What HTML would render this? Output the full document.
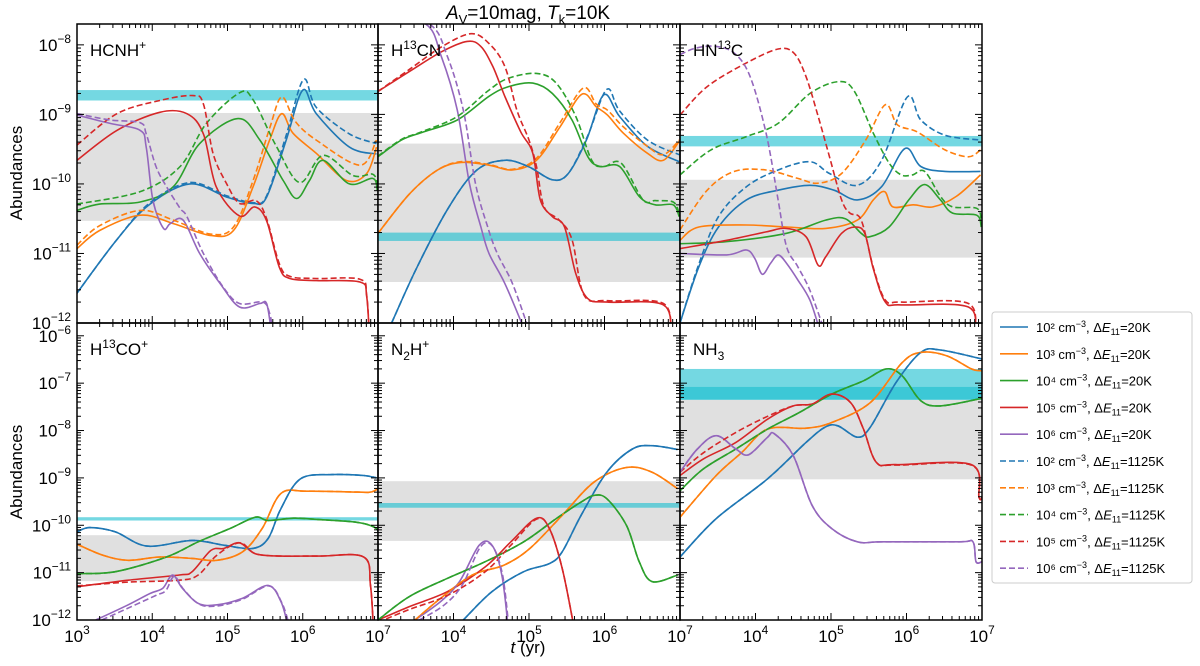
<!DOCTYPE html>
<html><head><meta charset="utf-8"><style>
html,body{margin:0;padding:0;background:#fff;}
svg{display:block;font-family:"Liberation Sans",sans-serif;}
</style></head><body>
<svg id="chart" width="1200" height="666" viewBox="0 0 1200 666" xmlns="http://www.w3.org/2000/svg">
<text x="528" y="19" text-anchor="middle" font-size="19"><tspan font-style="italic">A</tspan><tspan font-size="13" dy="5">V</tspan><tspan dy="-5">=10mag, </tspan><tspan font-style="italic">T</tspan><tspan font-size="13" dy="5">k</tspan><tspan dy="-5">=10K</tspan></text>
<text x="528" y="653" text-anchor="middle" font-size="17"><tspan font-style="italic">t</tspan> (yr)</text>
<text transform="translate(22,173) rotate(-90)" text-anchor="middle" font-size="17">Abundances</text>
<text transform="translate(22,472) rotate(-90)" text-anchor="middle" font-size="17">Abundances</text>
<g id="panels"></g>
<g id="legend"></g>
</svg>
<script>
// ---- data: [log10 t, log10 abundance] ----
const p1Blue=[[3,-11.57],[3.53,-10.8],[3.97,-10.29],[4.5,-10.0],[4.99,-10.19],[5.34,-10.28],[5.52,-10.19],[5.78,-9.37],[6.0,-8.65],[6.18,-8.99],[6.62,-9.47],[6.98,-9.57]];
const p1BlueD=[[3,-11.57],[3.53,-10.8],[3.97,-10.27],[4.5,-9.98],[4.99,-10.17],[5.34,-10.27],[5.52,-10.17],[5.78,-9.3],[6.01,-8.5],[6.18,-8.9],[6.62,-9.28],[6.98,-9.42]];
const p1Orange=[[3,-10.93],[3.3,-10.67],[3.84,-10.45],[4.28,-10.57],[4.77,-10.74],[5.08,-10.67],[5.34,-10.04],[5.56,-9.37],[5.72,-8.99],[5.87,-9.27],[6.18,-9.56],[6.58,-9.95],[6.85,-9.85],[6.98,-9.47]];
const p1OrangeD=[[3,-10.88],[3.3,-10.6],[3.84,-10.38],[4.28,-10.52],[4.77,-10.72],[5.08,-10.62],[5.34,-9.95],[5.56,-9.2],[5.72,-8.75],[5.9,-9.1],[6.18,-9.37],[6.76,-9.73],[6.98,-9.37]];
const p1Green=[[3,-10.38],[3.3,-10.29],[3.84,-10.26],[4.28,-10.04],[4.63,-9.42],[5.14,-9.06],[5.43,-9.37],[5.74,-9.95],[5.92,-10.21],[6.09,-9.95],[6.27,-9.66],[6.62,-10.0],[6.93,-9.92],[6.99,-10.09]];
const p1GreenD=[[3,-10.29],[3.84,-10.11],[4.37,-9.75],[4.72,-9.13],[5.16,-8.69],[5.34,-8.79],[5.65,-9.46],[5.96,-9.98],[6.27,-9.59],[6.67,-9.88],[6.93,-9.86],[6.99,-10.0]];
const p1Red=[[3,-9.66],[3.53,-9.23],[4.1,-8.97],[4.46,-8.99],[4.68,-9.28],[4.85,-10.04],[5.16,-10.46],[5.36,-10.33],[5.52,-10.53],[5.69,-11.2],[5.83,-11.36],[6.18,-11.39],[6.76,-11.41],[6.85,-11.62],[6.89,-12.3]];
const p1RedD=[[3,-9.44],[3.53,-8.99],[4.1,-8.8],[4.54,-8.73],[4.68,-8.85],[4.81,-9.57],[4.99,-10.0],[5.16,-10.28],[5.38,-10.24],[5.52,-10.5],[5.69,-11.15],[5.83,-11.33],[6.18,-11.36],[6.76,-11.37],[6.85,-11.6],[6.89,-12.3]];
const p1Purple=[[3,-9.01],[3.44,-9.13],[3.84,-9.23],[3.92,-9.47],[4.01,-10.24],[4.15,-10.64],[4.24,-10.57],[4.41,-10.52],[4.63,-11.0],[4.9,-11.43],[5.16,-11.77],[5.43,-11.72],[5.52,-11.72],[5.58,-12.1]];
const p1PurpleD=[[3,-8.99],[3.44,-9.08],[3.84,-9.12],[3.92,-9.28],[4.05,-9.75],[4.19,-10.04],[4.37,-10.35],[4.46,-10.47],[4.68,-11.0],[4.94,-11.48],[5.16,-11.72],[5.47,-11.7],[5.56,-11.86],[5.6,-12.1]];

const p2Blue=[[3.18,-12],[3.52,-11.19],[3.94,-10.33],[4.31,-9.8],[4.68,-9.66],[4.99,-9.75],[5.31,-9.94],[5.52,-9.85],[5.76,-9.37],[5.99,-8.72],[6.2,-9.03],[6.57,-9.46],[6.99,-9.68]];
const p2BlueD=[[3.18,-12],[3.52,-11.19],[3.94,-10.33],[4.31,-9.8],[4.68,-9.66],[4.99,-9.75],[5.31,-9.94],[5.52,-9.85],[5.78,-9.3],[6.03,-8.64],[6.2,-8.95],[6.57,-9.37],[6.99,-9.58]];
const p2Orange=[[3,-10.71],[3.42,-10.14],[3.79,-9.8],[4.1,-9.69],[4.47,-9.73],[4.78,-9.8],[5.1,-9.66],[5.41,-9.18],[5.7,-8.71],[5.89,-8.89],[6.04,-9.01],[6.25,-9.27],[6.57,-9.56],[6.78,-9.66],[6.99,-9.39]];
const p2OrangeD=[[3,-10.71],[3.42,-10.14],[3.79,-9.8],[4.1,-9.68],[4.47,-9.72],[4.78,-9.79],[5.1,-9.63],[5.41,-9.12],[5.72,-8.62],[5.89,-8.85],[6.04,-8.94],[6.25,-9.18],[6.57,-9.46],[6.78,-9.58],[6.99,-9.37]];
const p2Green=[[3,-9.61],[3.31,-9.37],[3.58,-9.26],[4.05,-9.08],[4.47,-8.74],[4.73,-8.6],[5.05,-8.55],[5.31,-8.7],[5.57,-9.08],[5.78,-9.61],[5.94,-9.75],[6.2,-9.75],[6.46,-10.18],[6.67,-10.3],[6.91,-10.3],[6.99,-10.47]];
const p2GreenD=[[3,-9.6],[3.31,-9.36],[3.58,-9.25],[4.05,-9.03],[4.47,-8.65],[4.73,-8.48],[5.1,-8.41],[5.36,-8.55],[5.62,-9.03],[5.83,-9.66],[5.99,-9.75],[6.22,-9.7],[6.51,-10.23],[6.67,-10.24],[6.91,-10.26],[6.99,-10.42]];
const p2Red=[[3,-8.67],[3.42,-8.38],[3.84,-8.1],[4.18,-7.95],[4.36,-8.02],[4.52,-8.31],[4.68,-8.74],[4.89,-9.25],[5.05,-9.56],[5.15,-10.23],[5.31,-10.47],[5.47,-10.62],[5.62,-11.29],[5.78,-11.65],[6.04,-11.7],[6.78,-11.74],[6.88,-12.2]];
const p2RedD=[[3,-8.67],[3.42,-8.35],[3.84,-8.03],[4.23,-7.84],[4.47,-7.98],[4.68,-8.31],[4.84,-8.94],[5.0,-9.37],[5.1,-9.75],[5.2,-10.33],[5.4,-10.52],[5.57,-10.8],[5.73,-11.6],[6.04,-11.68],[6.78,-11.72],[6.88,-12.2]];
const p2Purple=[[3,-7.55],[3.63,-7.7],[3.84,-8.17],[4.05,-8.94],[4.21,-9.99],[4.36,-10.61],[4.47,-11.0],[4.68,-11.43],[4.94,-12.1]];
const p2PurpleD=[[3,-7.5],[3.68,-7.7],[3.92,-8.17],[4.13,-8.94],[4.29,-9.99],[4.45,-10.61],[4.58,-11.0],[4.78,-11.43],[5.0,-12.1]];

const p3Blue=[[3,-12],[3.25,-11.19],[3.51,-10.62],[3.88,-10.23],[4.3,-10.09],[4.72,-10.02],[5.04,-10.09],[5.35,-10.23],[5.67,-10.04],[5.98,-9.49],[6.19,-9.75],[6.51,-9.82],[6.98,-9.82]];
const p3BlueD=[[3,-12],[3.25,-11.15],[3.51,-10.47],[3.88,-10.04],[4.3,-9.8],[4.72,-9.68],[4.98,-9.85],[5.35,-10.02],[5.67,-9.66],[6.01,-8.75],[6.19,-9.08],[6.51,-9.3],[6.98,-9.37]];
const p3Orange=[[3,-10.81],[3.25,-10.62],[3.88,-10.59],[4.41,-10.62],[4.93,-10.64],[5.35,-10.52],[5.56,-10.23],[5.71,-10.11],[5.82,-10.33],[6.09,-10.3],[6.35,-10.33],[6.66,-10.18],[6.98,-9.87]];
const p3OrangeD=[[3,-10.66],[3.36,-10.09],[3.72,-9.82],[4.14,-9.8],[4.56,-9.92],[4.83,-9.99],[5.14,-9.85],[5.46,-9.37],[5.72,-8.86],[5.88,-9.15],[6.14,-9.25],[6.51,-9.51],[6.82,-9.61],[6.98,-9.51]];
const p3Green=[[3,-10.86],[3.62,-10.83],[4.41,-10.71],[4.93,-10.52],[5.19,-10.5],[5.4,-10.71],[5.51,-10.76],[5.77,-10.62],[6.03,-10.23],[6.24,-10.01],[6.45,-10.23],[6.61,-10.42],[6.93,-10.45],[6.99,-10.62]];
const p3GreenD=[[3,-9.87],[3.41,-9.51],[3.88,-9.32],[4.3,-9.13],[4.72,-8.7],[5.09,-8.53],[5.3,-8.65],[5.56,-9.27],[5.77,-9.7],[5.93,-9.87],[6.08,-9.87],[6.24,-9.82],[6.45,-10.18],[6.61,-10.33],[6.93,-10.35],[6.99,-10.52]];
const p3Red=[[3,-10.93],[3.62,-10.81],[4.14,-10.69],[4.41,-10.64],[4.67,-10.76],[4.83,-11.17],[4.93,-11.05],[5.14,-10.71],[5.33,-10.62],[5.45,-10.72],[5.56,-11.22],[5.72,-11.7],[5.93,-11.74],[6.82,-11.77],[6.9,-12.2]];
const p3RedD=[[3,-9.01],[3.36,-8.6],[3.88,-8.26],[4.3,-8.06],[4.51,-8.12],[4.67,-8.46],[4.83,-9.03],[4.98,-9.61],[5.14,-10.23],[5.25,-10.42],[5.4,-10.52],[5.56,-11.2],[5.72,-11.67],[5.93,-11.7],[6.82,-11.72],[6.9,-12.2]];
const p3Purple=[[3,-11.0],[3.62,-11.02],[3.88,-10.95],[3.99,-11.07],[4.09,-11.3],[4.2,-11.14],[4.3,-11.02],[4.41,-11.14],[4.56,-11.38],[4.72,-11.67],[4.85,-12.1]];
const p3PurpleD=[[3,-8.14],[3.2,-8.05],[3.46,-8.02],[3.72,-8.12],[3.93,-8.46],[4.14,-9.27],[4.3,-10.23],[4.41,-10.9],[4.56,-11.19],[4.72,-11.53],[4.91,-12.1]];

const p4Blue=[[3,-10.14],[3.17,-10.05],[3.51,-10.14],[3.93,-10.44],[4.53,-10.32],[4.95,-10.42],[5.33,-10.49],[5.54,-10.28],[5.71,-9.65],[5.97,-9.02],[6.39,-8.93],[6.81,-8.95],[6.98,-9.0]];
const p4Orange=[[3,-10.4],[3.34,-10.63],[3.68,-10.74],[4.1,-10.67],[4.53,-10.7],[4.86,-10.74],[5.2,-10.56],[5.46,-10.07],[5.71,-9.33],[6.05,-9.28],[6.73,-9.3],[6.9,-9.3],[7,-9.23]];
const p4Green=[[3,-11.02],[3.51,-10.98],[4.19,-10.67],[4.61,-10.35],[5.03,-10.07],[5.37,-9.83],[5.54,-9.9],[5.88,-9.85],[6.22,-9.88],[6.73,-9.94],[6.98,-10.07],[7,-10.28]];
const p4Red=[[3,-11.3],[3.68,-11.16],[4.36,-11.05],[4.53,-10.98],[4.78,-10.53],[4.95,-10.49],[5.16,-10.37],[5.37,-10.6],[5.71,-10.65],[6.22,-10.65],[6.81,-10.67],[6.9,-11.27],[6.94,-12.2]];
const p4RedD=[[3,-11.28],[3.68,-11.2],[4.36,-11.16],[4.61,-11.05],[4.86,-10.63],[5.16,-10.37],[5.37,-10.6],[5.71,-10.65],[6.22,-10.65],[6.81,-10.67],[6.9,-11.27],[6.94,-12.2]];
const p4Purple=[[3.25,-12],[3.68,-11.68],[3.97,-11.44],[4.14,-11.33],[4.27,-11.05],[4.4,-11.33],[4.61,-11.65],[4.86,-11.68],[5.2,-11.54],[5.54,-11.27],[5.71,-11.61],[5.8,-12.1]];
const p4PurpleD=[[3.33,-12],[3.72,-11.72],[4.05,-11.48],[4.18,-11.38],[4.29,-11.08],[4.42,-11.36],[4.63,-11.67],[4.88,-11.7],[5.2,-11.56],[5.55,-11.28],[5.72,-11.63],[5.82,-12.1]];

const p5Blue=[[4.13,-12],[4.51,-11.4],[4.93,-10.98],[5.27,-10.81],[5.44,-10.56],[5.69,-9.79],[6.03,-8.88],[6.37,-8.39],[6.63,-8.32],[6.97,-8.4]];
const p5Orange=[[3.49,-12],[3.83,-11.54],[4.25,-11.05],[4.67,-10.84],[5.01,-10.49],[5.44,-9.79],[5.86,-9.09],[6.29,-8.78],[6.63,-8.88],[6.97,-9.23]];
const p5Green=[[3,-12],[3.41,-11.51],[3.92,-11.12],[4.42,-10.77],[4.93,-10.35],[5.36,-9.86],[5.69,-9.51],[5.86,-9.37],[6.03,-9.44],[6.29,-10.0],[6.46,-10.77],[6.63,-11.19],[6.97,-11.05]];
const p5Red=[[3,-12],[3.41,-11.72],[3.92,-11.4],[4.42,-10.88],[4.76,-10.35],[5.1,-9.85],[5.27,-10.07],[5.44,-10.91],[5.59,-12.1]];
const p5RedD=[[3,-12.05],[3.41,-11.78],[3.92,-11.48],[4.42,-10.98],[4.76,-10.42],[5.1,-9.87],[5.27,-10.07],[5.44,-10.91],[5.59,-12.1]];
const p5Purple=[[3.49,-12],[3.83,-11.61],[4.08,-11.19],[4.34,-10.42],[4.51,-10.42],[4.64,-11.05],[4.72,-12.1]];
const p5PurpleD=[[3.55,-12],[3.88,-11.68],[4.12,-11.25],[4.36,-10.45],[4.52,-10.45],[4.65,-11.05],[4.73,-12.1]];

const p6Blue=[[3,-10.67],[3.48,-9.86],[4.16,-9.02],[4.67,-8.25],[4.92,-7.93],[5.09,-7.9],[5.35,-8.14],[5.52,-7.93],[5.86,-6.99],[6.19,-6.35],[6.45,-6.3],[7,-6.49]];
const p6Orange=[[3,-9.83],[3.48,-8.95],[3.82,-8.46],[4.16,-7.97],[4.67,-7.95],[5.01,-7.83],[5.52,-7.41],[5.94,-6.57],[6.19,-6.35],[6.53,-6.42],[6.86,-6.7],[7,-6.74]];
const p6Green=[[3,-9.27],[3.31,-8.81],[3.74,-8.39],[4.16,-7.97],[4.58,-7.62],[5.01,-7.23],[5.43,-6.95],[5.73,-6.7],[5.94,-6.84],[6.19,-7.37],[6.45,-7.48],[7,-7.32]];
const p6Red=[[3,-8.95],[3.31,-8.6],[3.74,-8.25],[4.16,-7.76],[4.5,-7.48],[4.75,-7.44],[5.01,-7.23],[5.26,-7.41],[5.43,-7.97],[5.6,-8.67],[5.86,-8.72],[6.86,-8.72],[6.96,-9.41],[7,-9.41]];
const p6RedD=[[3,-8.88],[3.31,-8.47],[3.74,-8.04],[4.16,-7.7],[4.5,-7.48],[4.75,-7.44],[5.01,-7.23],[5.26,-7.41],[5.43,-7.97],[5.6,-8.67],[5.86,-8.73],[6.86,-8.73],[6.96,-9.41],[7,-9.41]];
const p6Purple=[[3,-8.88],[3.23,-8.39],[3.48,-8.11],[3.74,-8.39],[3.91,-8.51],[4.16,-8.14],[4.25,-8.07],[4.5,-8.53],[4.75,-9.58],[5.01,-10.07],[5.35,-10.35],[5.69,-10.35],[6.7,-10.35],[6.88,-10.35],[6.92,-10.77],[7,-10.77]];

// bands [lo, hi] in log10
const p1Cyan=[-8.8,-8.65], p1Gray=[-10.53,-8.98];
const p2Cyan=[-10.82,-10.7], p2Gray=[-11.41,-9.42];
const p3Cyan=[-9.46,-9.31], p3Gray=[-11.06,-9.94];
const p4Cyan=[-9.9,-9.83], p4Gray=[-11.18,-10.21];
const p5Cyan=[-9.63,-9.53], p5Gray=[-10.33,-9.07];
const p6Cyan=[-7.35,-6.7], p6Cyan2=[-7.35,-7.08], p6Gray=[-9.03,-7.35];

const xTicks=[3,4,5,6,7];
const legendLabels=["10\u00b2","10\u00b3","10\u2074","10\u2075","10\u2076"];

const C={blue:"#1f77b4",orange:"#ff7f0e",green:"#2ca02c",red:"#d62728",purple:"#9467bd"};
const NS="http://www.w3.org/2000/svg";
const svg=document.getElementById("chart");
const G=document.getElementById("panels");
function mk(tag,attrs,parent){const e=document.createElementNS(NS,tag);for(const k in attrs)e.setAttribute(k,attrs[k]);(parent||G).appendChild(e);return e;}

const colX=[77,378,680], colW=[301,302,302];
const rows=[{y0:24,y1:323,lo:-12,hi:-7.7},{y0:323,y1:620,lo:-12,hi:-5.73}];

const panels=[
 {name:"hcnh",label:["HCNH",["+","sup"]],c:0,r:0,cyan:[p1Cyan],gray:p1Gray,
  s:[[p1Blue,"blue",0],[p1Orange,"orange",0],[p1Green,"green",0],[p1Red,"red",0],[p1Purple,"purple",0],[p1BlueD,"blue",1],[p1OrangeD,"orange",1],[p1GreenD,"green",1],[p1RedD,"red",1],[p1PurpleD,"purple",1]]},
 {name:"h13cn",label:["H",["13","sup"],"CN"],c:1,r:0,cyan:[p2Cyan],gray:p2Gray,
  s:[[p2Blue,"blue",0],[p2Orange,"orange",0],[p2Green,"green",0],[p2Red,"red",0],[p2Purple,"purple",0],[p2BlueD,"blue",1],[p2OrangeD,"orange",1],[p2GreenD,"green",1],[p2RedD,"red",1],[p2PurpleD,"purple",1]]},
 {name:"hn13c",label:["HN",["13","sup"],"C"],c:2,r:0,cyan:[p3Cyan],gray:p3Gray,
  s:[[p3Blue,"blue",0],[p3Orange,"orange",0],[p3Green,"green",0],[p3Red,"red",0],[p3Purple,"purple",0],[p3BlueD,"blue",1],[p3OrangeD,"orange",1],[p3GreenD,"green",1],[p3RedD,"red",1],[p3PurpleD,"purple",1]]},
 {name:"h13co",label:["H",["13","sup"],"CO",["+","sup"]],c:0,r:1,cyan:[p4Cyan],gray:p4Gray,
  s:[[p4Blue,"blue",0],[p4Orange,"orange",0],[p4Green,"green",0],[p4Red,"red",0],[p4Purple,"purple",0],[p4Blue,"blue",1],[p4Orange,"orange",1],[p4Green,"green",1],[p4RedD,"red",1],[p4PurpleD,"purple",1]]},
 {name:"n2h",label:["N",["2","sub"],"H",["+","sup"]],c:1,r:1,cyan:[p5Cyan],gray:p5Gray,
  s:[[p5Blue,"blue",0],[p5Orange,"orange",0],[p5Green,"green",0],[p5Red,"red",0],[p5Purple,"purple",0],[p5Blue,"blue",1],[p5Orange,"orange",1],[p5Green,"green",1],[p5RedD,"red",1],[p5PurpleD,"purple",1]]},
 {name:"nh3",label:["NH",["3","sub"]],c:2,r:1,cyan:[p6Cyan,p6Cyan2],gray:p6Gray,
  s:[[p6Blue,"blue",0],[p6Orange,"orange",0],[p6Green,"green",0],[p6Red,"red",0],[p6Purple,"purple",0],[p6Blue,"blue",1],[p6Orange,"orange",1],[p6Green,"green",1],[p6RedD,"red",1],[p6Purple,"purple",1]]}
];

function pathFrom(pts){
  let d="M"+pts[0][0].toFixed(1)+","+pts[0][1].toFixed(1);
  for(let i=0;i<pts.length-1;i++){
    const p0=pts[Math.max(0,i-1)],p1=pts[i],p2=pts[i+1],p3=pts[Math.min(pts.length-1,i+2)];
    const c1x=p1[0]+(p2[0]-p0[0])/6,c1y=p1[1]+(p2[1]-p0[1])/6;
    const c2x=p2[0]-(p3[0]-p1[0])/6,c2y=p2[1]-(p3[1]-p1[1])/6;
    d+=" C"+c1x.toFixed(1)+","+c1y.toFixed(1)+" "+c2x.toFixed(1)+","+c2y.toFixed(1)+" "+p2[0].toFixed(1)+","+p2[1].toFixed(1);
  }
  return d;
}
function sup(parent,x,y,base,exp,anchor,size){
  const t=mk("text",{x:x,y:y,"font-size":size||17,"text-anchor":anchor||"middle"},parent);
  t.appendChild(document.createTextNode(base));
  const s=mk("tspan",{"font-size":(size||17)*0.7,dy:-8},t);s.textContent=exp;
  return t;
}

const defs=mk("defs",{},svg);
panels.forEach((P,pi)=>{
  const R=rows[P.r], x0=colX[P.c], w=colW[P.c], x1=x0+w;
  const sx=v=>x0+(v-3)/4*w;
  const sy=v=>R.y1-(v-R.lo)/(R.hi-R.lo)*(R.y1-R.y0);
  const g=mk("g",{});
  
  
  const cp=mk("clipPath",{id:"clip"+pi},defs);
  mk("rect",{x:x0,y:R.y0,width:w,height:R.y1-R.y0},cp);
  const inner=mk("g",{"clip-path":"url(#clip"+pi+")"},g);
  const gr=mk("rect",{x:x0,y:sy(P.gray[1]),width:w,height:sy(P.gray[0])-sy(P.gray[1]),fill:"#e0e0e0"},inner);
  
  
  P.cyan.forEach(b=>{
    const cr=mk("rect",{x:x0,y:sy(b[1]),width:w,height:sy(b[0])-sy(b[1]),fill:"#17becf","fill-opacity":0.6},inner);
    
    
  });
  P.s.forEach(S=>{
    const pts=S[0].map(p=>[sx(p[0]),sy(p[1])]);
    const pa=mk("path",{d:pathFrom(pts),fill:"none",stroke:C[S[1]],"stroke-width":1.6,"stroke-dasharray":S[2]?"6,3":"none"},inner);
    
    
  });
  const tk=mk("g",{stroke:"#000","stroke-width":1},g);
  for(let d=3;d<=7;d++){
    [[R.y1,-1],[R.y0,1]].forEach(([yy,dir])=>{
      if(d>3&&d<7) mk("line",{x1:sx(d),x2:sx(d),y1:yy,y2:yy+dir*7},tk);
      if(d<7) for(let m=2;m<10;m++){const xx=sx(d+Math.log10(m));mk("line",{x1:xx,x2:xx,y1:yy,y2:yy+dir*4},tk);}
    });
  }
  for(let d=Math.ceil(R.lo);d<=Math.floor(R.hi)+1;d++){
    [[x0,1],[x1,-1]].forEach(([xx,dir])=>{
      if(d<=R.hi&&d>R.lo) mk("line",{x1:xx,x2:xx+dir*7,y1:sy(d),y2:sy(d)},tk);
      for(let m=2;m<10;m++){const v=d+Math.log10(m);if(v<R.hi) {mk("line",{x1:xx,x2:xx+dir*4,y1:sy(v),y2:sy(v)},tk);}}
    });
  }
  const fr=mk("rect",{x:x0,y:R.y0,width:w,height:R.y1-R.y0,fill:"none",stroke:"#000","stroke-width":1.5},g);
  
  
  const lt=mk("text",{x:x0+13,y:R.y0+32,"font-size":17},g);
  
  
  let shift=0;
  P.label.forEach(part=>{
    if(typeof part==="string"){const t=mk("tspan",{dy:-shift},lt);t.textContent=part;shift=0;}
    else{const dy=part[1]==="sup"?-7:5;const t=mk("tspan",{dy:dy,"font-size":12},lt);t.textContent=part[0];shift=dy;}
  });
  if(P.c===0){
    for(let d=Math.ceil(R.lo);d<=R.hi;d++){
      const t=sup(g,x0-6,sy(d)+6,"10","\u2212"+(-d),"end");
      
      
    }
  }
  if(P.r===1){
    xTicks.forEach(v=>{
      if(v===3&&P.c>0) return;
      const t=sup(g,sx(v),R.y1+22,"10",String(v),"middle");
      
      
    });
  }
});

const L=document.getElementById("legend");
mk("rect",{x:992,y:312,width:200,height:271,rx:3,fill:"#fff",stroke:"#ccc","stroke-width":1},L);
const cols=["blue","orange","green","red","purple"];
for(let i=0;i<10;i++){
  const y=327+i*26.8, c=cols[i%5], dashed=i>=5;
  const e=mk("g",{},L);
  
  
  mk("line",{x1:1000,x2:1028,y1:y,y2:y,stroke:C[c],"stroke-width":1.6,"stroke-dasharray":dashed?"6,3":"none"},e);
  const t=mk("text",{x:1036,y:y+5,"font-size":13},e);
  t.appendChild(document.createTextNode(legendLabels[i%5]+" cm"));
  const s=mk("tspan",{dy:-5,"font-size":9},t);s.textContent="\u22123";
  const t2=mk("tspan",{dy:5},t);t2.textContent=", \u0394";
  const t3=mk("tspan",{"font-style":"italic"},t);t3.textContent="E";
  const t4=mk("tspan",{dy:3,"font-size":9},t);t4.textContent="11";
  const t5=mk("tspan",{dy:-3},t);t5.textContent=dashed?"=1125K":"=20K";
}
</script>
</body></html>
